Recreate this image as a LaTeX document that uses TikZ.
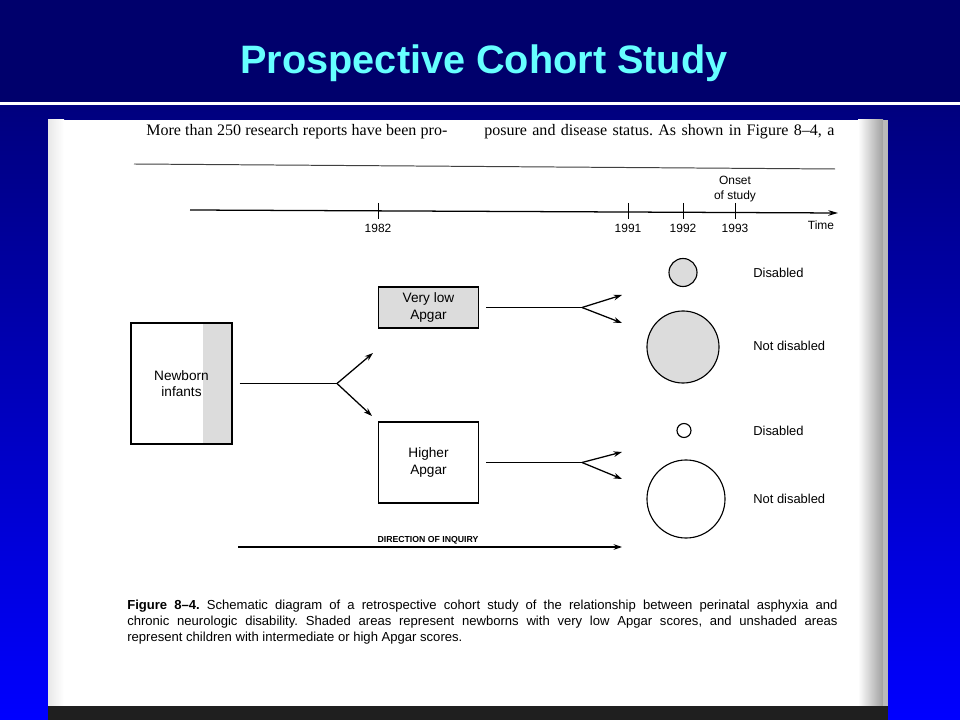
\documentclass[tikz,border=0pt]{standalone}
\usepackage{fontspec}
\setmainfont{Liberation Sans}
\newfontfamily\bookfont{Liberation Serif}
\usetikzlibrary{arrows.meta,positioning}
\frenchspacing

\definecolor{barnavy}{RGB}{0,0,108}
\definecolor{slidetop}{RGB}{0,0,125}
\definecolor{slidebot}{RGB}{0,0,255}
\definecolor{titlecyan}{RGB}{102,255,255}
\definecolor{stipple}{RGB}{220,220,220}

\begin{document}
\begin{tikzpicture}[
			x=0.025cm, y=-0.025cm,
			block/.style={rectangle, draw, line width=0.8pt, inner sep=0pt, align=center, font=\fontsize{9.7}{11.5}\selectfont},
			blob/.style={circle, draw, line width=0.8pt, inner sep=0pt},
			outcome/.style={anchor=west, inner sep=0pt, font=\fontsize{9.2}{11}\selectfont},
			year/.style={inner sep=0pt, align=center, font=\fontsize{8.5}{11}\selectfont},
			stem/.style={line width=0.9pt, shorten <=1.75mm},
			flow/.style={line width=0.9pt, -{Stealth[length=6pt,width=4pt]}}
		]
		\useasboundingbox (0,0) rectangle (960,720);

		% slide background and title
		\shade[top color=slidetop, bottom color=slidebot] (0,100) rectangle (960,720);
		\fill[barnavy] (0,0) rectangle (960,102);
		\fill[white] (0,102) rectangle (960,105.5);
		\node[font=\bfseries\fontsize{28.2}{32}\selectfont, text=titlecyan] (Title) at (484,63) {Prospective Cohort Study};

		% scanned page
		\fill[white] (48,120) rectangle (888,706);
		\shade[left color=gray!18, right color=white] (48,120) rectangle (64,706);
		\shade[left color=white, right color=gray!75] (858,120) rectangle (883,706);
		\fill[gray!55] (883,120) rectangle (888,706);
		\fill[black!88] (48,706) rectangle (888,720);

		\node[anchor=base west, inner sep=0pt, font=\bookfont\fontsize{11.4}{13}\selectfont] (ColA) at (146,136) {\makebox[7.525cm][s]{More than 250 research reports have been pro-}};
		\node[anchor=base west, inner sep=0pt, font=\bookfont\fontsize{11.4}{13}\selectfont] (ColB) at (484,136) {\makebox[8.75cm][s]{posure and disease status. As shown in Figure 8–4, a}};

		\coordinate (RuleL) at (134,164);
		\coordinate (RuleR) at (835,169);
		\draw[line width=0.7pt, black!75] (RuleL) -- (RuleR);

		% time axis
		\coordinate (TimeL) at (190,210);
		\coordinate (TimeR) at (838,213);
		\draw[line width=0.9pt, -{Stealth[length=7pt,width=4pt]}] (TimeL) -- (TimeR);
		\foreach \xx/\yr in {378/1982, 628/1991, 683/1992, 735/1993} {
			\draw[line width=0.7pt] (\xx,203) -- (\xx,219);
			\node[year] (Y\yr) at (\xx,228) {\yr};
		}
		\node[year] (Onset) at (735,189) {Onset\\of study};
		\node[year] (TimeLbl) at (821,225) {Time};

		% groups
		\node[block, minimum width=2.525cm, minimum height=3.025cm,
			path picture={\fill[stipple] ([xshift=-0.725cm]path picture bounding box.north east) rectangle (path picture bounding box.south east);}] (Newborn) at (181.5,383.5) {Newborn\\infants};
		\node[block, fill=stipple, minimum width=2.5cm, minimum height=1.025cm] (VeryLow) at (428.5,307.5) {Very low\\Apgar};
		\node[block, minimum width=2.5cm, minimum height=2.025cm] (Higher) at (428.5,462.5) {Higher\\Apgar};

		\coordinate (SplitA) at (337,383.5);
		\coordinate (TipA1) at (373,353);
		\coordinate (TipA2) at (372,416);
		\draw[stem] (Newborn.east) -- (SplitA);
		\draw[flow] (SplitA) -- (TipA1);
		\draw[flow] (SplitA) -- (TipA2);

		\coordinate (SplitB) at (582,307.5);
		\coordinate (TipB1) at (622,295);
		\coordinate (TipB2) at (622,323);
		\draw[stem] (VeryLow.east) -- (SplitB);
		\draw[flow] (SplitB) -- (TipB1);
		\draw[flow] (SplitB) -- (TipB2);

		\coordinate (SplitC) at (582,462.5);
		\coordinate (TipC1) at (622,452);
		\coordinate (TipC2) at (622,479);
		\draw[stem] (Higher.east) -- (SplitC);
		\draw[flow] (SplitC) -- (TipC1);
		\draw[flow] (SplitC) -- (TipC2);

		% outcomes
		\node[blob, fill=stipple, minimum size=0.7cm] (DisLow) at (683,272.5) {};
		\node[blob, fill=stipple, minimum size=1.8cm] (WellLow) at (683,347) {};
		\node[blob, minimum size=0.35cm] (DisHigh) at (684,430.5) {};
		\node[blob, minimum size=1.95cm] (WellHigh) at (686,499) {};
		\node[outcome] (DisLowLbl) at (753,273) {Disabled};
		\node[outcome] (WellLowLbl) at (753,346) {Not disabled};
		\node[outcome] (DisHighLbl) at (753,431) {Disabled};
		\node[outcome] (WellHighLbl) at (753,499) {Not disabled};

		% direction of inquiry
		\coordinate (InqL) at (238,547);
		\coordinate (InqR) at (622,547);
		\draw[flow] (InqL) -- (InqR);
		\node[inner sep=0pt, font=\bfseries\fontsize{6.2}{7}\selectfont] (Inquiry) at (428,540) {DIRECTION OF INQUIRY};

		\node[anchor=north west, inner sep=0pt, text width=17.75cm, align=justify, font=\fontsize{9.3}{11.4}\selectfont] (Caption) at (127,600) {\textbf{Figure 8–4.} Schematic diagram of a retrospective cohort study of the relationship between perinatal asphyxia and\linebreak chronic neurologic disability. Shaded areas represent newborns with very low Apgar scores, and unshaded areas\linebreak represent children with intermediate or high Apgar scores.};

	\end{tikzpicture}
\end{document}
